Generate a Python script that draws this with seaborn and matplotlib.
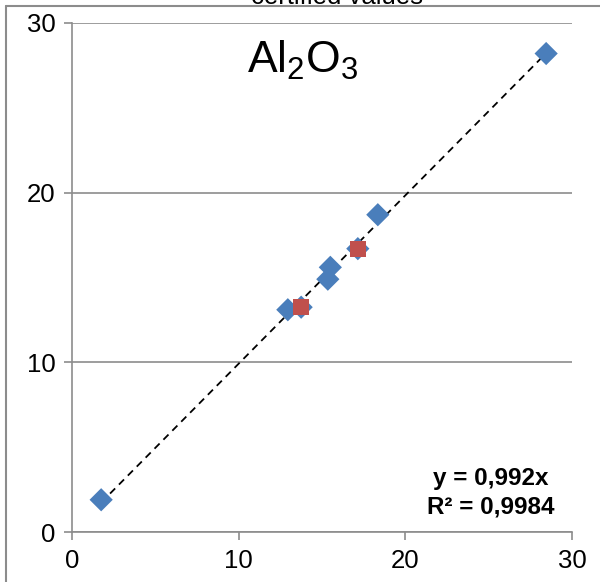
import numpy as np
import seaborn as sns
import matplotlib
matplotlib.use("Agg")
import matplotlib.pyplot as plt
from matplotlib.lines import Line2D

# certified vs measured Al2O3 values
blue_x = [1.75, 12.95, 13.75, 15.35, 15.5, 17.15, 18.35, 28.45]
blue_y = [1.9, 13.1, 13.25, 14.9, 15.6, 16.7, 18.7, 28.2]
red_x = [13.75, 17.15]
red_y = [13.25, 16.7]
slope = 0.992
ticks = [0, 10, 20, 30]

sns.set_theme(style="white")
plt.rcParams['font.family'] = ['Liberation Sans', 'DejaVu Sans']
plt.rcParams['mathtext.fontset'] = 'custom'
plt.rcParams['mathtext.rm'] = 'Liberation Sans'
plt.rcParams['text.color'] = 'black'

fig = plt.figure(figsize=(6.0, 5.82), dpi=100)
ax = fig.add_axes([0.12, 0.0859, 0.8333, 0.8746])

# trendline through origin over the data range
line_x = np.array([min(blue_x), max(blue_x)])
ax.plot(line_x, slope * line_x, color="black", linestyle=(0, (4, 3)), lw=1.3, zorder=2)

sns.scatterplot(x=blue_x, y=blue_y, marker="D", s=140, color="#4a7ebb",
                edgecolor="none", ax=ax, zorder=3)
sns.scatterplot(x=red_x, y=red_y, marker="s", s=130, color="#c0504d",
                edgecolor="none", ax=ax, zorder=4)

ax.set_xlim(0, 30)
ax.set_ylim(0, 30)
ax.set_xticks(ticks)
ax.set_yticks(ticks)
ax.yaxis.grid(True, color="#8c8c8c", lw=1.2)
ax.set_axisbelow(True)
for s in ["top", "right"]:
    ax.spines[s].set_visible(False)
for s in ["left", "bottom"]:
    ax.spines[s].set_color("#8c8c8c")
    ax.spines[s].set_linewidth(1.2)
ax.tick_params(axis="both", direction="out", length=6, width=1.2, color="#8c8c8c",
               labelsize=18.5, labelcolor="black", pad=6, bottom=True, left=True)

ax.text(0.462, 0.927, r"Al$_\mathregular{2}$O$_\mathregular{3}$", transform=ax.transAxes,
        ha="center", va="center", fontsize=32, color="black")
ax.text(0.838, 0.106, "y = 0,992x", transform=ax.transAxes, ha="center", va="center",
        fontsize=17.5, fontweight="bold", color="black")
ax.text(0.838, 0.049, "R² = 0,9984", transform=ax.transAxes, ha="center", va="center",
        fontsize=17.5, fontweight="bold", color="black")

# cut-off title and chart border
fig.text(0.562, 1.006, "certified values", ha="center", va="center", fontsize=18.5,
         color="black")
fig.add_artist(Line2D([0.01, 0.01], [0, 0.99], color="#8c8c8c", lw=1.5,
                      transform=fig.transFigure))
fig.add_artist(Line2D([0.01, 1.0], [0.99, 0.99], color="#8c8c8c", lw=1.5,
                      transform=fig.transFigure))

plt.savefig("out.png", dpi=100)
plt.close(fig)
